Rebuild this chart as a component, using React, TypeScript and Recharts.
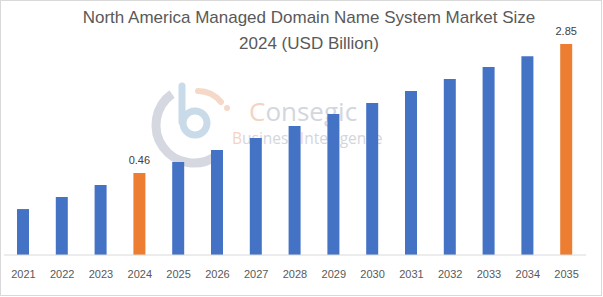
import React from "react";
import { BarChart, Bar, XAxis, YAxis, Cell, LabelList } from "recharts";

const years = ["2021","2022","2023","2024","2025","2026","2027","2028","2029","2030","2031","2032","2033","2034","2035"];
const values = [0.276,0.327,0.388,0.46,0.537,0.636,0.754,0.894,1.059,1.237,1.466,1.737,2.06,2.4,2.85];
const labels = ["","","","0.46","","","","","","","","","","","2.85"];
const highlighted = ["2024","2035"];
const titleLines = ["North America Managed Domain Name System Market Size", "2024 (USD Billion)"];

const BLUE = "#4472C4";
const ORANGE = "#ED7D31";
const FONT = "'Liberation Sans', Arial, sans-serif";

const data = years.map((y, i) => ({ year: y, value: values[i], label: labels[i] }));

function Watermark() {
  return (
    <svg width={603} height={297} style={{ position: "absolute", left: 0, top: 0 }}>
      <g>
        <path d="M 172 94 A 33 33 0 1 0 216 156" fill="none" stroke="#d5d8e0" strokeWidth={9} />
        <path d="M 182 86 L 182 122" stroke="#c9dbe8" strokeWidth={7} strokeLinecap="round" />
        <circle cx={195} cy={123} r={12} fill="none" stroke="#c9dbe8" strokeWidth={7} />
        <path d="M 198 91 A 30 30 0 0 1 221 102" fill="none" stroke="#f6d8c8" strokeWidth={6} strokeLinecap="round" />
        <circle cx={227} cy={108} r={3} fill="#f6d8c8" />
        <text x={249} y={121} fontFamily="'Open Sans', sans-serif" fontSize={26} fill="#d3d6de">
          <tspan fill="#f5d3c2">C</tspan>onsegic
        </text>
        <text x={232} y={144} fontFamily="'Open Sans', sans-serif" fontSize={15.5} fill="#d3d6de">
          <tspan fill="#f5d3c2">B</tspan>usiness <tspan fill="#f5d3c2">I</tspan>ntelligence
        </text>
      </g>
    </svg>
  );
}

export default function App() {
  return (
    <div style={{ position: "absolute", left: 0, top: 0, width: 603, height: 297, background: "#fff" }}>
      <Watermark />
      <div style={{ position: "absolute", left: 0, top: 0 }}>
        <BarChart width={603} height={297} data={data} margin={{ top: 30, right: 17, left: 4, bottom: 0 }}>
          <XAxis
            dataKey="year"
            height={42}
            tickLine={false}
            tickMargin={9}
            axisLine={{ stroke: "#d9d9d9" }}
            tick={{ fill: "#595959", fontSize: 11, fontFamily: FONT }}
            interval={0}
          />
          <YAxis hide type="number" scale="log" domain={[0.1441, 3.475]} allowDataOverflow />
          <Bar dataKey="value" barSize={12} isAnimationActive={false}>
            {data.map((d) => (
              <Cell key={d.year} fill={highlighted.includes(d.year) ? ORANGE : BLUE} />
            ))}
            <LabelList dataKey="label" position="top" offset={9} fill="#404040" fontSize={11} fontFamily={FONT} />
          </Bar>
        </BarChart>
      </div>
      <svg width={603} height={297} style={{ position: "absolute", left: 0, top: 0, pointerEvents: "none" }}>
        <text x={309} y={23} textAnchor="middle" fontFamily={FONT} fontSize={17} fill="#595959">{titleLines[0]}</text>
        <text x={309} y={49} textAnchor="middle" fontFamily={FONT} fontSize={17} fill="#595959">{titleLines[1]}</text>
        <rect x={0.5} y={0.5} width={601} height={295} fill="none" stroke="#d9d9d9" />
      </svg>
    </div>
  );
}
